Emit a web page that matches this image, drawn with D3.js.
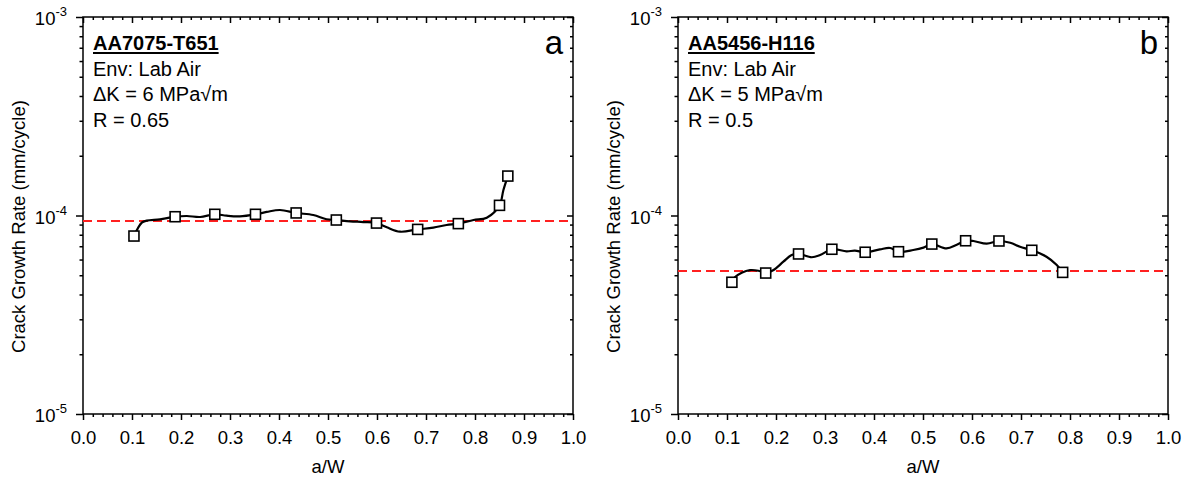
<!DOCTYPE html>
<html>
<head>
<meta charset="utf-8">
<script src="https://cdn.jsdelivr.net/npm/d3@7"></script>
<style>
  html, body { margin: 0; padding: 0; background: #fff; }
  svg { display: block; font-family: "Liberation Sans", Arial, sans-serif; }
</style>
</head>
<body>
<svg id="chart" width="1186" height="479"></svg>
<script>
// ---------- DATA ----------
const xTicks = [0.0, 0.1, 0.2, 0.3, 0.4, 0.5, 0.6, 0.7, 0.8, 0.9, 1.0];
const yDecades = [1e-5, 1e-4, 1e-3];
const yTickExp = ["-5", "-4", "-3"];

// Panel a: AA7075-T651
const aMarkerX = [0.104, 0.188, 0.269, 0.352, 0.435, 0.517, 0.599, 0.683, 0.766, 0.850, 0.867];
const aMarkerY = [7.88e-5, 9.86e-5, 1.014e-4, 1.014e-4, 1.03e-4, 9.49e-5, 9.16e-5, 8.51e-5, 9.1e-5, 1.125e-4, 1.58e-4];
const aCurveX = [0.104, 0.120, 0.130, 0.157, 0.188, 0.212, 0.239, 0.269, 0.293, 0.320, 0.352, 0.375, 0.402, 0.435, 0.470, 0.497, 0.517, 0.545, 0.572, 0.599, 0.620, 0.647, 0.683, 0.715, 0.742, 0.766, 0.797, 0.824, 0.850, 0.858, 0.867];
const aCurveY = [7.88e-5, 9.2e-5, 9.42e-5, 9.57e-5, 9.86e-5, 9.94e-5, 9.83e-5, 1.014e-4, 9.98e-5, 9.91e-5, 1.014e-4, 1.042e-4, 1.066e-4, 1.03e-4, 1.006e-4, 9.57e-5, 9.49e-5, 9.35e-5, 9.27e-5, 9.16e-5, 8.72e-5, 8.29e-5, 8.51e-5, 8.69e-5, 8.96e-5, 9.1e-5, 9.49e-5, 9.75e-5, 1.125e-4, 1.345e-4, 1.58e-4];
const aRef = 9.37e-5;
const aText = ["AA7075-T651", "Env: Lab Air", "\u0394K = 6 MPa\u221Am", "R = 0.65"];
const aLetter = "a";

// Panel b: AA5456-H116
const bMarkerX = [0.110, 0.179, 0.246, 0.314, 0.382, 0.450, 0.518, 0.587, 0.655, 0.722, 0.785];
const bMarkerY = [4.61e-5, 5.13e-5, 6.40e-5, 6.76e-5, 6.53e-5, 6.57e-5, 7.18e-5, 7.46e-5, 7.44e-5, 6.68e-5, 5.17e-5];
const bCurveX = [0.110, 0.116, 0.130, 0.147, 0.164, 0.179, 0.195, 0.215, 0.232, 0.246, 0.273, 0.290, 0.314, 0.344, 0.361, 0.382, 0.412, 0.433, 0.450, 0.480, 0.501, 0.518, 0.548, 0.569, 0.587, 0.603, 0.630, 0.655, 0.678, 0.698, 0.722, 0.752, 0.773, 0.785];
const bCurveY = [4.61e-5, 4.88e-5, 5.15e-5, 5.31e-5, 5.27e-5, 5.13e-5, 5.31e-5, 5.85e-5, 6.32e-5, 6.40e-5, 6.16e-5, 6.32e-5, 6.76e-5, 6.60e-5, 6.65e-5, 6.53e-5, 6.75e-5, 6.86e-5, 6.57e-5, 6.70e-5, 6.89e-5, 7.18e-5, 6.83e-5, 7.13e-5, 7.46e-5, 7.44e-5, 7.21e-5, 7.44e-5, 7.29e-5, 6.96e-5, 6.68e-5, 6.20e-5, 5.63e-5, 5.17e-5];
const bRef = 5.25e-5;
const bText = ["AA5456-H116", "Env: Lab Air", "\u0394K = 5 MPa\u221Am", "R = 0.5"];
const bLetter = "b";

const xLabel = "a/W";
const yLabel = "Crack Growth Rate (mm/cycle)";

// ---------- DRAW ----------
const svg = d3.select("#chart");
const plotTop = 17, plotBottom = 414;

function panel(left, right, mx, my, cx, cy, ref, texts, letter) {
  const g = svg.append("g");
  const x = d3.scaleLinear().domain([0, 1]).range([left, right]);
  const y = d3.scaleLog().domain([1e-5, 1e-3]).range([plotBottom, plotTop]);

  const majorX = xTicks;
  const minorX = d3.range(0, 1.0001, 0.02).filter(v => Math.abs(Math.round(v * 10) - v * 10) > 1e-6);
  const minorY = [];
  [1e-5, 1e-4].forEach(d => { for (let k = 2; k <= 9; k++) minorY.push(d * k); });

  const axStyle = sel => {
    sel.select(".domain").remove();
    sel.selectAll("line").attr("stroke", "#000").attr("stroke-width", 1.5);
  };

  // bottom (outward)
  g.append("g").attr("transform", `translate(0,${plotBottom})`)
    .call(d3.axisBottom(x).tickValues(majorX).tickSize(6).tickFormat(d3.format(".1f")))
    .call(axStyle)
    .call(s => s.selectAll("text").attr("font-size", 18.5).attr("font-family", "Liberation Sans, Arial")
      .attr("fill", "#000").attr("y", 30).attr("dy", 0));
  g.append("g").attr("transform", `translate(0,${plotBottom})`)
    .call(d3.axisBottom(x).tickValues(minorX).tickSize(3).tickFormat(""))
    .call(axStyle);
  // top (inward)
  g.append("g").attr("transform", `translate(0,${plotTop})`)
    .call(d3.axisTop(x).tickValues(majorX).tickSize(-6).tickFormat(""))
    .call(axStyle);
  g.append("g").attr("transform", `translate(0,${plotTop})`)
    .call(d3.axisTop(x).tickValues(minorX).tickSize(-3).tickFormat(""))
    .call(axStyle);
  // left (outward)
  g.append("g").attr("transform", `translate(${left},0)`)
    .call(d3.axisLeft(y).tickValues(yDecades).tickSize(7).tickFormat(""))
    .call(axStyle);
  g.append("g").attr("transform", `translate(${left},0)`)
    .call(d3.axisLeft(y).tickValues(minorY).tickSize(3.5).tickFormat(""))
    .call(axStyle);
  // right (inward)
  g.append("g").attr("transform", `translate(${right},0)`)
    .call(d3.axisRight(y).tickValues(yDecades).tickSize(-6).tickFormat(""))
    .call(axStyle);
  g.append("g").attr("transform", `translate(${right},0)`)
    .call(d3.axisRight(y).tickValues(minorY).tickSize(-3).tickFormat(""))
    .call(axStyle);

  // frame
  g.append("rect").attr("x", left).attr("y", plotTop).attr("width", right - left).attr("height", plotBottom - plotTop)
    .attr("fill", "none").attr("stroke", "#000").attr("stroke-width", 1.5);

  // y tick labels with superscripts
  yDecades.forEach((d, i) => {
    const t = g.append("text").attr("x", left - 16).attr("y", y(d) + 8)
      .attr("text-anchor", "end").attr("font-size", 18.5).attr("fill", "#000");
    t.append("tspan").text("10");
    t.append("tspan").attr("font-size", 13).attr("dy", -9).text(yTickExp[i]);
  });

  // axis titles
  g.append("text").attr("x", (left + right) / 2).attr("y", 473).attr("text-anchor", "middle")
    .attr("font-size", 18.5).attr("fill", "#000").text(xLabel);
  g.append("text").attr("transform", `translate(${left - 58},${(plotTop + plotBottom) / 2 + 11}) rotate(-90)`)
    .attr("text-anchor", "middle").attr("font-size", 18.5).attr("fill", "#000").text(yLabel);

  // reference dashed line
  g.append("line").attr("x1", left).attr("x2", right).attr("y1", y(ref)).attr("y2", y(ref))
    .attr("stroke", "#ff2020").attr("stroke-width", 2).attr("stroke-dasharray", "9,5");

  // curve
  const pts = cx.map((v, i) => [v, cy[i]]);
  g.append("path").datum(pts)
    .attr("d", d3.line().x(d => x(d[0])).y(d => y(d[1])).curve(d3.curveCatmullRom.alpha(0.5)))
    .attr("fill", "none").attr("stroke", "#000").attr("stroke-width", 2.2);

  // markers
  const s = 10;
  g.selectAll("rect.m").data(mx.map((v, i) => [v, my[i]])).join("rect").attr("class", "m")
    .attr("x", d => x(d[0]) - s / 2).attr("y", d => y(d[1]) - s / 2)
    .attr("width", s).attr("height", s)
    .attr("fill", "#fff").attr("stroke", "#000").attr("stroke-width", 1.6);

  // annotation text
  const tx = left + 10;
  const title = g.append("text").attr("x", tx).attr("y", 50).attr("font-size", 20).attr("font-weight", "bold")
    .attr("fill", "#000").text(texts[0]);
  const bb = title.node().getBBox();
  g.append("line").attr("x1", tx).attr("x2", tx + bb.width).attr("y1", 53).attr("y2", 53)
    .attr("stroke", "#000").attr("stroke-width", 1.8);
  texts.slice(1).forEach((t, i) => {
    g.append("text").attr("x", tx).attr("y", 75.5 + i * 25.5).attr("font-size", 20).attr("fill", "#000").text(t);
  });
  g.append("text").attr("x", right - 10).attr("y", 54).attr("text-anchor", "end")
    .attr("font-size", 33).attr("fill", "#000").text(letter);
}

panel(83, 573, aMarkerX, aMarkerY, aCurveX, aCurveY, aRef, aText, aLetter);
panel(678, 1168, bMarkerX, bMarkerY, bCurveX, bCurveY, bRef, bText, bLetter);
</script>
</body>
</html>
